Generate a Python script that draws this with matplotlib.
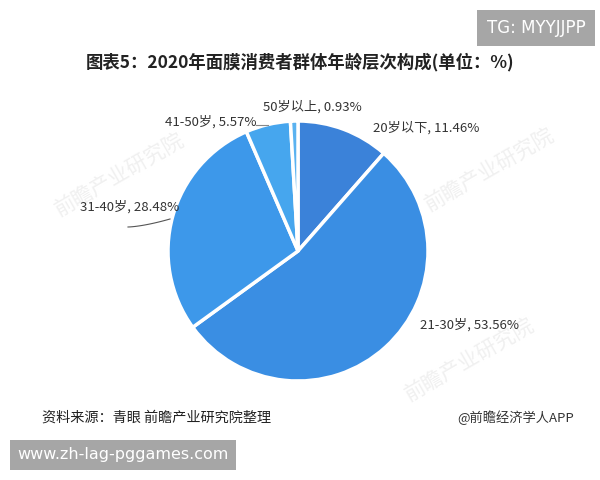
import numpy as np
from matplotlib import pyplot as plt

plt.rcParams['font.family'] = ['Noto Sans CJK SC', 'DejaVu Sans']

# data
age_groups = ['20岁以下', '21-30岁', '31-40岁', '41-50岁', '50岁以上']
shares = [11.46, 53.56, 28.48, 5.57, 0.93]
colors = ['#3b82d9', '#3a8ee3', '#3d98ea', '#46a6ee', '#5ab2f0']

title = '图表5：2020年面膜消费者群体年龄层次构成(单位：%)'
source = '资料来源：青眼 前瞻产业研究院整理'
brand = '@前瞻经济学人APP'

# label text position (pixels, y from top) per slice
label_pos = [(373, 128), (420, 325), (80, 207), (165, 122), (263, 107)]

W, H = 600, 480
fig = plt.figure(figsize=(6, 4.8), dpi=100)
ax = fig.add_axes([0, 0, 1, 1])

# faint background watermarks
for wx, wy in [(120, 175), (490, 170), (470, 360)]:
    ax.text(wx, H - wy, '前瞻产业研究院', fontsize=15, color='#f0f0f0',
            rotation=30, ha='center', va='center', zorder=0)

cx, cy, r = 298, H - 251, 130
wedges, _ = ax.pie(shares, colors=colors, startangle=90, counterclock=False,
                   center=(cx, cy), radius=r,
                   wedgeprops=dict(edgecolor='white', linewidth=2.5))
ax.set_xlim(0, W)
ax.set_ylim(0, H)
ax.set_aspect('equal')
ax.axis('off')

for w, name, val, (lx, ly) in zip(wedges, age_groups, shares, label_pos):
    ax.text(lx, H - ly, f'{name}, {val:.2f}%', fontsize=9.5, color='#333333',
            ha='left', va='center')

# leader lines
ax.plot([256, 268], [H - 125, H - 125], color='#888888', lw=0.8)
t = np.linspace(0, 1, 20)
ax.plot(128 + 42 * t, H - (227 - 8 * t ** 1.5), color='#555555', lw=0.8)

fig.text(0.5, 1 - 62 / H, title, fontsize=12.5, fontweight='bold',
         ha='center', va='center', color='#222222')
fig.text(42 / W, 1 - 418 / H, source, fontsize=10.2, ha='left', va='center',
         color='#222222')
fig.text(574 / W, 1 - 418 / H, brand, fontsize=9.5, ha='right', va='center',
         color='#333333')

# overlay stamps
fig.text(536 / W, 1 - 28 / H, 'TG: MYYJJPP', fontsize=12, color='white',
         ha='center', va='center', family='DejaVu Sans',
         bbox=dict(boxstyle='square,pad=0.55', fc='#a6a6a6', ec='none'))
fig.text(123 / W, 1 - 455 / H, 'www.zh-lag-pggames.com', fontsize=11.5,
         color='white', ha='center', va='center', family='DejaVu Sans',
         bbox=dict(boxstyle='square,pad=0.45', fc='#a6a6a6', ec='none'))

fig.savefig('out.png', dpi=100)
